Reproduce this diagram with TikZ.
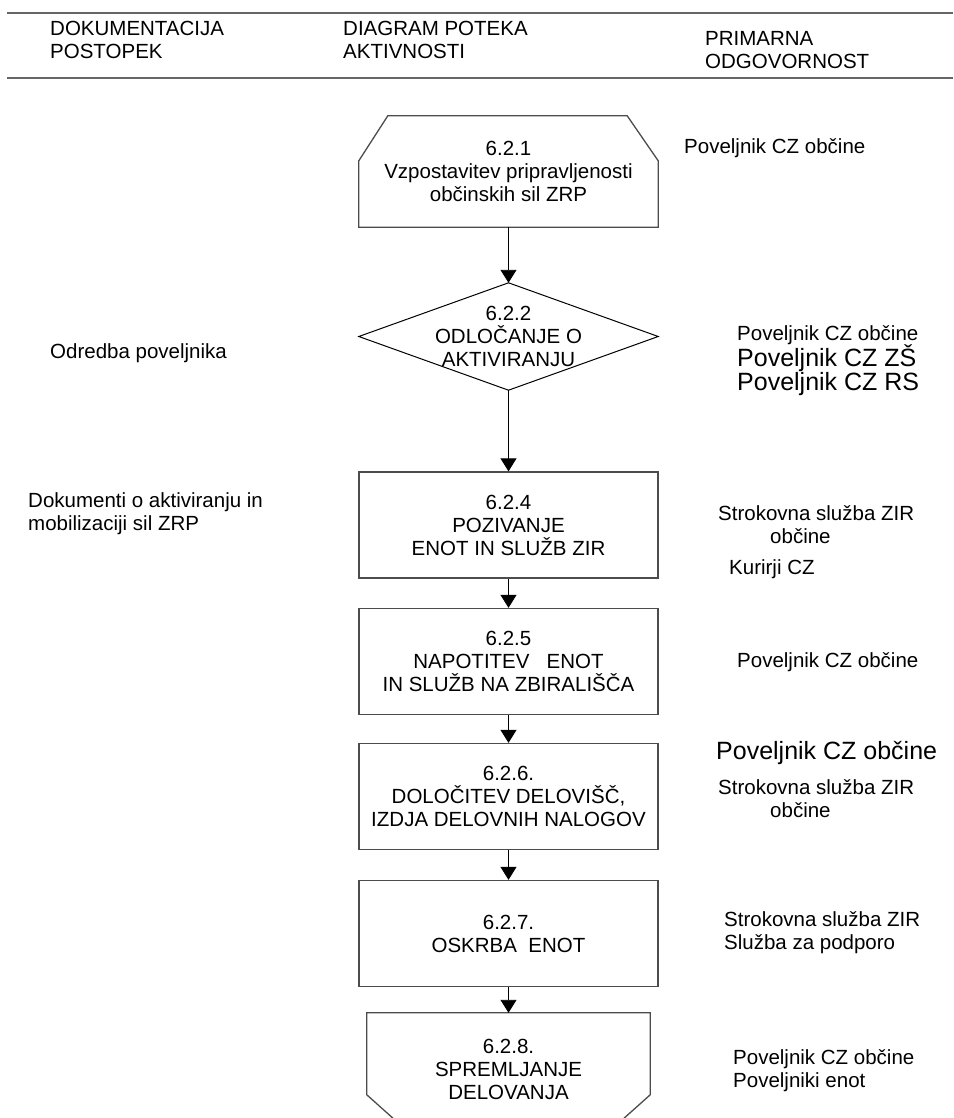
\documentclass[tikz,border=0pt]{standalone}
\usepackage{fontspec}
\setmainfont{Liberation Sans}
\usetikzlibrary{arrows.meta}

\tikzset{
  headline/.style = {draw = black!60, line width = 1.8pt},
  stepbox/.style = {rectangle,
      draw = black!70,
      line width = 1.3pt,
      minimum width = 299pt,
      minimum height = 106pt,
      align = center},
  shapebox/.style = {rectangle,
      minimum width = 299pt,
      align = center},
  outline/.style = {draw = black!70, line width = 1.3pt},
  flow/.style = {-{Triangle[width=16pt,length=13pt]}, line width = 0.9pt},
  note/.style = {anchor = west, align = left},
  bignote/.style = {anchor = west, font = \fontsize{25pt}{28pt}\selectfont},
}

\begin{document}
\begin{tikzpicture}[x=1pt, y=-1pt, inner sep=0pt,
    font=\fontsize{20.5pt}{23pt}\selectfont]
\useasboundingbox (0,0) rectangle (953,1118);

% header
\draw[headline] (7,13) -- (953,13);
\draw[headline] (7,78) -- (953,78);
\node[note] (hdoc) at (50,39.5) {DOKUMENTACIJA\\POSTOPEK};
\node[note] (hdia) at (343,39.5) {DIAGRAM POTEKA\\AKTIVNOSTI};
\node[note] (hres) at (705,50) {PRIMARNA\\ODGOVORNOST};

% first step
\node[shapebox,
    minimum height = 111pt] (s1) at (508.5,171.5)
    {6.2.1\\Vzpostavitev pripravljenosti\\občinskih sil ZRP};
\draw[outline] ([xshift=29pt]s1.north west) -- ([xshift=-31pt]s1.north east)
  -- ([yshift=-45pt]s1.north east) -- (s1.south east)
  -- (s1.south west) -- ([yshift=-45pt]s1.north west) -- cycle;

% decision
\node[shapebox,
    minimum height = 107pt] (d2) at (508.5,336.5)
    {6.2.2\\ODLOČANJE O\\AKTIVIRANJU};
\draw[line width=1pt] (d2.north) -- (d2.east) -- (d2.south) -- (d2.west) -- cycle;

% boxes
\node[stepbox] (b4) at (508.5,525) {6.2.4\\POZIVANJE\\ENOT IN SLUŽB ZIR};
\node[stepbox] (b5) at (508.5,661.5) {6.2.5\\NAPOTITEV\ \ \ ENOT\\IN SLUŽB NA ZBIRALIŠČA};
\node[stepbox] (b6) at (508.5,796.5) {6.2.6.\\DOLOČITEV DELOVIŠČ,\\IZDJA DELOVNIH NALOGOV};
\node[stepbox] (b7) at (508.5,933.5) {6.2.7.\\OSKRBA\ \ ENOT};

% last step
\node[shapebox,
    minimum width = 283pt,
    minimum height = 112pt] (s8) at (508.5,1069)
    {6.2.8.\\SPREMLJANJE\\DELOVANJA};
\draw[outline] (s8.north west) -- (s8.north east)
  -- ([yshift=-82pt]s8.north east) -- ([xshift=-34pt]s8.south east)
  -- ([xshift=34pt]s8.south west) -- ([yshift=-82pt]s8.north west) -- cycle;

% arrows
\draw[flow] (s1.south) -- (d2.north);
\draw[flow] (d2.south) -- (b4.north);
\draw[flow] (b4.south) -- (b5.north);
\draw[flow] (b5.south) -- (b6.north);
\draw[flow] (b6.south) -- (b7.north);
\draw[flow] (b7.south) -- (s8.north);

% documents
\node[note] (doc2) at (50,353) {Odredba poveljnika};
\node[note] (doc4) at (28,514) {Dokumenti o aktiviranju in\\mobilizaciji sil ZRP};

% responsibility
\node[note] (r1) at (684,148) {Poveljnik CZ občine};
\node[note] (r2a) at (737,335) {Poveljnik CZ občine};
\node[bignote] (r2b) at (737,358) {Poveljnik CZ ZŠ};
\node[bignote] (r2c) at (737,384) {Poveljnik CZ RS};
\node[note] (r4a) at (718,525) {Strokovna služba ZIR\\\hspace*{52pt}občine};
\node[note] (r4b) at (729,569) {Kurirji CZ};
\node[note] (r5) at (737,662) {Poveljnik CZ občine};
\node[bignote] (r6a) at (716,753) {Poveljnik CZ občine};
\node[note] (r6b) at (718,799) {Strokovna služba ZIR\\\hspace*{52pt}občine};
\node[note] (r7) at (724,932.5) {Strokovna služba ZIR\\Služba za podporo};
\node[note] (r8) at (733,1071) {Poveljnik CZ občine\\Poveljniki enot};

\end{tikzpicture}
\end{document}
